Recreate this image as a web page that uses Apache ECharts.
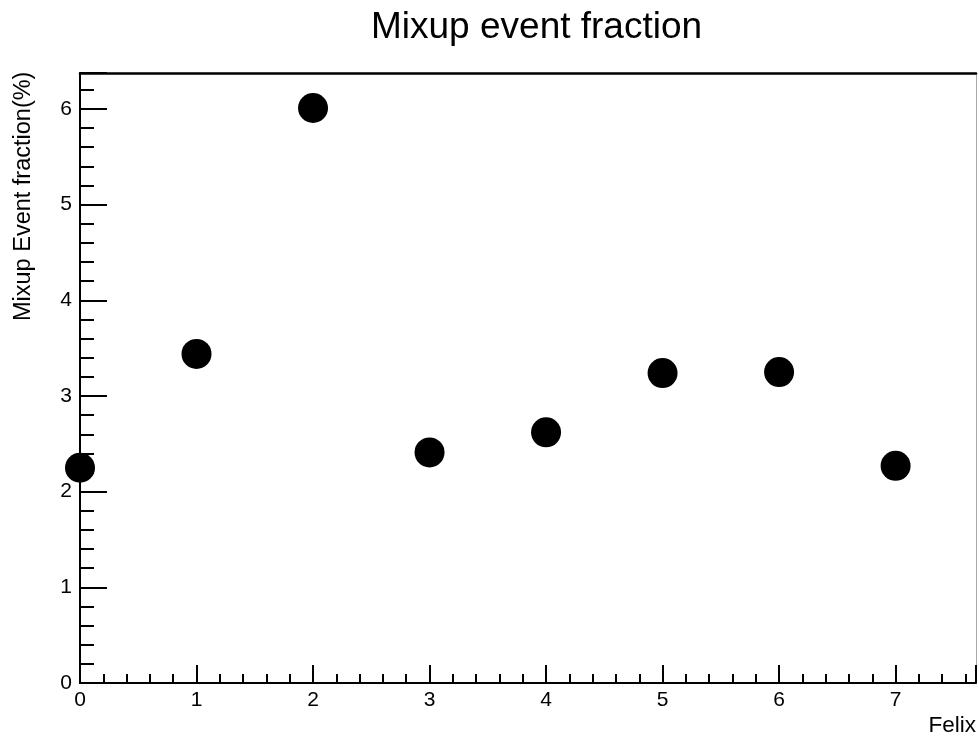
<!DOCTYPE html>
<html>
<head>
<meta charset="utf-8">
<script src="https://cdn.jsdelivr.net/npm/echarts@6/dist/echarts.min.js"></script>
<style>
  html, body { margin: 0; padding: 0; background: #fff; }
  #chart { width: 979px; height: 737px; }
</style>
</head>
<body>
<div id="chart"></div>
<script>
// Felix board index and the mixup event fraction (%)
const felix = [0, 1, 2, 3, 4, 5, 6, 7]
const fraction = [2.25, 3.44, 6.01, 2.41, 2.62, 3.24, 3.25, 2.27]
const xRange = [0, 7.69]
const yRange = [0, 6.376]

const font = 'Liberation Sans, Arial, sans-serif'
const black = '#000'

const chart = echarts.init(document.getElementById('chart'))

chart.setOption({
  animation: false,
  title: {
    text: 'Mixup event fraction',
    left: 366,
    top: 4,
    textStyle: { fontFamily: font, fontSize: 37, fontWeight: 'normal', color: black }
  },
  grid: { left: 80, top: 73, right: 1, bottom: 54 },
  graphic: [
    {
      type: 'text',
      x: 12,
      y: 321,
      rotation: Math.PI / 2,
      style: { text: 'Mixup Event fraction(%)', fontFamily: font, fontSize: 23.5, fill: black, textAlign: 'left', textVerticalAlign: 'top' }
    },
    {
      type: 'text',
      right: 3,
      top: 714,
      style: { text: 'Felix', fontFamily: font, fontSize: 22.5, fill: black }
    }
  ],
  xAxis: [
    {
      type: 'value', position: 'bottom', min: xRange[0], max: xRange[1], interval: 1,
      axisLine: { onZero: false, lineStyle: { color: black, width: 2 } },
      axisTick: { inside: true, length: 18, lineStyle: { color: black, width: 2 } },
      axisLabel: {
        margin: 7, fontFamily: font, fontSize: 21, color: black,
        formatter: v => (Number.isInteger(v) ? String(v) : '')
      },
      splitLine: { show: false }
    },
    {
      type: 'value', position: 'bottom', min: xRange[0], max: xRange[1], interval: 0.2,
      axisLine: { show: false, onZero: false },
      axisTick: { inside: true, length: 9, lineStyle: { color: black, width: 2 } },
      axisLabel: { show: false },
      splitLine: { show: false }
    },
    {
      type: 'value', position: 'top', min: xRange[0], max: xRange[1],
      axisLine: { onZero: false, lineStyle: { color: black, width: 2.5 } },
      axisTick: { show: false },
      axisLabel: { show: false },
      splitLine: { show: false }
    }
  ],
  yAxis: [
    {
      type: 'value', position: 'left', min: yRange[0], max: yRange[1], interval: 1,
      axisLine: { onZero: false, lineStyle: { color: black, width: 2 } },
      axisTick: { inside: true, length: 27, lineStyle: { color: black, width: 2 } },
      axisLabel: {
        margin: 8, fontFamily: font, fontSize: 21, color: black,
        formatter: v => (Number.isInteger(v) ? String(v) : '')
      },
      splitLine: { show: false }
    },
    {
      type: 'value', position: 'left', min: yRange[0], max: yRange[1], interval: 0.2,
      axisLine: { show: false, onZero: false },
      axisTick: { inside: true, length: 14, lineStyle: { color: black, width: 2 } },
      axisLabel: { show: false },
      splitLine: { show: false }
    },
    {
      type: 'value', position: 'right', min: yRange[0], max: yRange[1],
      axisLine: { onZero: false, lineStyle: { color: '#aaa', width: 1 } },
      axisTick: { show: false },
      axisLabel: { show: false },
      splitLine: { show: false }
    }
  ],
  series: [{
    type: 'scatter',
    xAxisIndex: 0,
    yAxisIndex: 0,
    symbol: 'circle',
    symbolSize: 30,
    itemStyle: { color: black, opacity: 1 },
    data: felix.map((f, i) => [f, fraction[i]])
  }]
})
</script>
</body>
</html>
